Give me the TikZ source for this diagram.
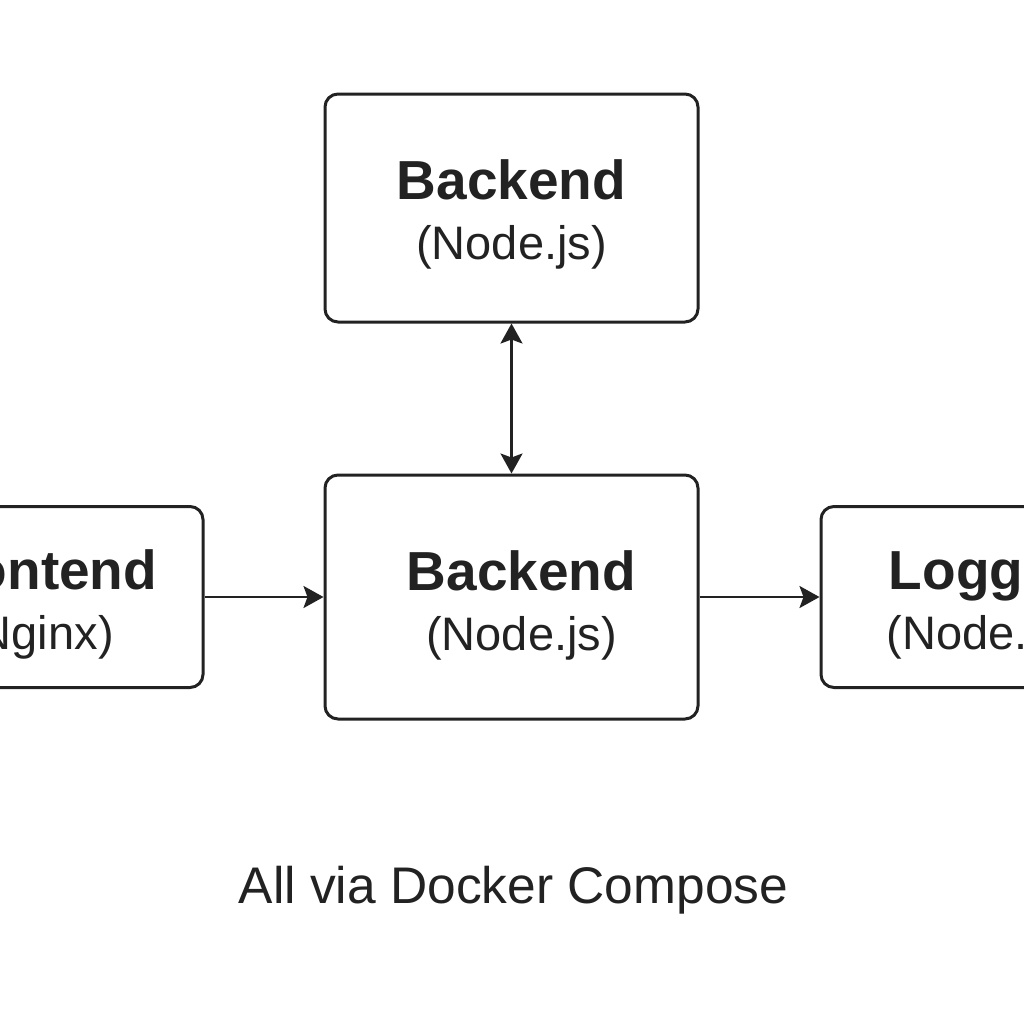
\documentclass[tikz,border=0pt]{standalone}
\usepackage{fontspec}
\setmainfont{Liberation Sans}
\usetikzlibrary{positioning,arrows.meta}
\definecolor{ink}{HTML}{222222}
\begin{document}
\begin{tikzpicture}[x=0.5pt, y=0.5pt, color=ink,
    main/.style = {draw, rounded corners=6.5pt, line width=1.5pt, align=center, inner sep=0pt, font=\fontsize{23.5}{30}\selectfont},
    tip/.tip = {Stealth[length=10pt, width=11pt, inset=2pt]},
    link/.style = {line width=1.25pt, -tip}]

    \useasboundingbox (0,0) rectangle (1024,-1024);
    \clip (0,0) rectangle (1024,-1024);

    \node[main, minimum width=186.5pt, minimum height=122pt] (mid) at (511.5,-597) {\rule{0pt}{28pt}\hspace*{10pt}{\fontsize{27.5}{30}\selectfont\bfseries Backend}\\\hspace*{10pt}(Node.js)};
    \node[main, minimum width=186.5pt, minimum height=114pt] (top) [above=75pt of mid] {\rule{0pt}{26pt}{\fontsize{27.5}{30}\selectfont\bfseries Backend}\\(Node.js)};
    \node[main, minimum width=165pt, minimum height=90.5pt] (front) [left=59.5pt of mid] {\rule{0pt}{27pt}{\fontsize{27.5}{30}\selectfont\bfseries Frontend}\\(Nginx)};
    \node[main, minimum width=161pt, minimum height=90.5pt] (log) [right=60pt of mid] {\rule{0pt}{27pt}{\fontsize{27.5}{30}\selectfont\bfseries Logger}\\(Node.js)};
    \node[anchor=base, font=\fontsize{25.75}{30}\selectfont] (cap) at (513.5,-903) {All via Docker Compose};

    \draw[link, tip-tip] (top) -- (mid);
    \draw[link] (front) -- (mid);
    \draw[link] (mid) -- (log);
\end{tikzpicture}
\end{document}
